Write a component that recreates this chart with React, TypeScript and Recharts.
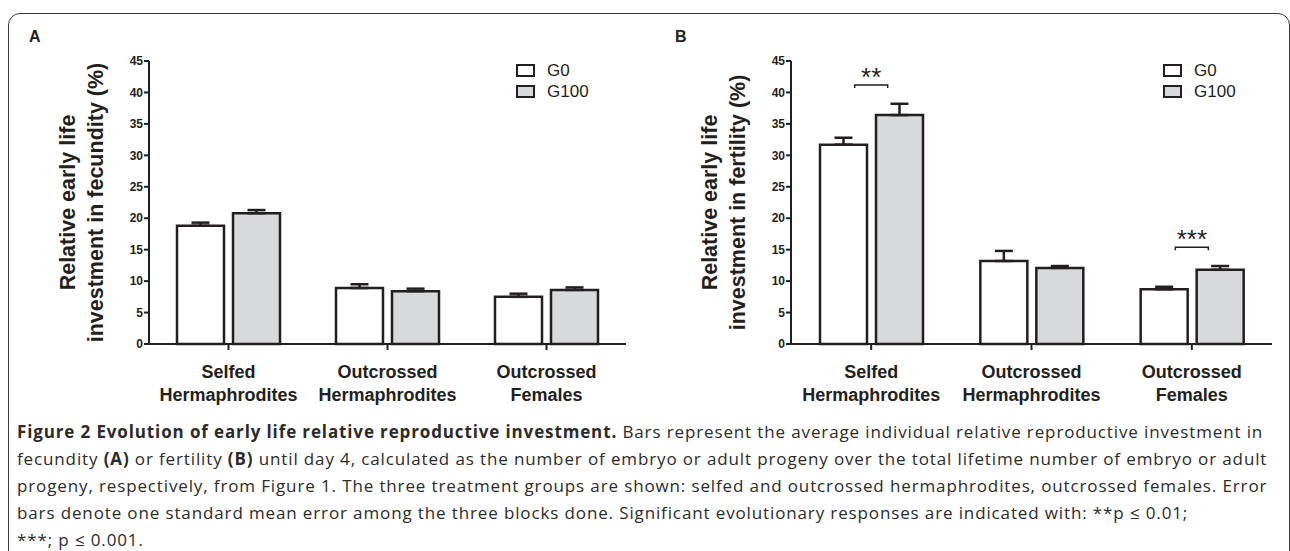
import React from "react";
import { BarChart, Bar, XAxis, YAxis, ErrorBar, Legend, ReferenceDot } from "recharts";

const categories = ["Selfed\nHermaphrodites", "Outcrossed\nHermaphrodites", "Outcrossed\nFemales"];
const seriesNames = ["G0", "G100"];
const yTicks = [0, 5, 10, 15, 20, 25, 30, 35, 40, 45];

// panel A, fecundity
const fecundityG0 = [18.8, 8.9, 7.5];
const fecundityG0Err = [0.5, 0.6, 0.5];
const fecundityG100 = [20.8, 8.4, 8.6];
const fecundityG100Err = [0.5, 0.4, 0.4];

// panel B, fertility
const fertilityG0 = [31.7, 13.2, 8.7];
const fertilityG0Err = [1.1, 1.6, 0.4];
const fertilityG100 = [36.4, 12.1, 11.8];
const fertilityG100Err = [1.8, 0.3, 0.6];

const fertilitySig = [
  { group: categories[0], y: 41.2, label: "**" },
  { group: categories[2], y: 15.4, label: "***" },
];

const INK = "#231f20";
const ARIAL = "'Liberation Sans', Arial, sans-serif";

function rows(g0: number[], g0e: number[], g100: number[], g100e: number[]) {
  return categories.map((c, i) => ({
    group: c,
    g0: g0[i],
    g100: g100[i],
    g0Err: [0, g0e[i]],
    g100Err: [0, g100e[i]],
  }));
}

const CategoryTick = (props: any) => {
  const { x, y, payload } = props;
  const lines = String(payload.value).split("\n");
  return (
    <text x={x} y={y} textAnchor="middle" fontFamily={ARIAL} fontWeight="bold" fontSize={18} fill={INK}>
      {lines.map((l, i) => (
        <tspan key={i} x={x} y={y + 26 + i * 23}>
          {l}
        </tspan>
      ))}
    </text>
  );
};

const YLabel = (props: any) => {
  const { viewBox, lines } = props;
  const axisX = viewBox.x + viewBox.width;
  const cy = viewBox.y + viewBox.height / 2;
  return (
    <g>
      {lines.map((l: string, i: number) => {
        const x = axisX - 81 + i * 28;
        return (
          <text
            key={i}
            x={x}
            y={cy}
            transform={`rotate(-90 ${x} ${cy})`}
            textAnchor="middle"
            dominantBaseline="central"
            fontFamily={ARIAL}
            fontWeight="bold"
            fontSize={21.5}
            fill={INK}
          >
            {l}
          </text>
        );
      })}
    </g>
  );
};

const LegendBox = (props: any) => {
  const { payload } = props;
  return (
    <div style={{ fontFamily: ARIAL, fontSize: 17, color: INK }}>
      {(payload || []).map((entry: any) => (
        <div key={entry.value} style={{ display: "flex", alignItems: "center", height: 21 }}>
          <span
            style={{
              display: "inline-block",
              width: 15,
              height: 9,
              border: `2px solid ${INK}`,
              background: entry.color,
              marginRight: 12,
            }}
          />
          <span>{entry.value}</span>
        </div>
      ))}
    </div>
  );
};

const SigMark = (props: any) => {
  const { cx, cy, label } = props;
  const half = 16.5;
  return (
    <g>
      <path
        d={`M${cx - half},${cy + 3} L${cx - half},${cy} L${cx + half},${cy} L${cx + half},${cy + 3}`}
        fill="none"
        stroke={INK}
        strokeWidth={1.5}
      />
      <text x={cx} y={cy + 1} textAnchor="middle" fontFamily={ARIAL} fontSize={26} fill={INK}>
        {label}
      </text>
    </g>
  );
};

function Panel(props: {
  data: any[];
  yLines: string[];
  width: number;
  left: number;
  right: number;
  legendLeft: number;
  sig?: { group: string; y: number; label: string }[];
}) {
  const { data, yLines, width, left, right, legendLeft, sig } = props;
  return (
    <BarChart
      width={width}
      height={420}
      data={data}
      barGap={9}
      margin={{ top: 61, right: right, bottom: 16, left: left - 40 }}
    >
      <XAxis
        dataKey="group"
        height={60}
        axisLine={{ stroke: INK, strokeWidth: 2 }}
        tickLine={{ stroke: INK, strokeWidth: 2 }}
        tickSize={6}
        tick={<CategoryTick />}
        interval={0}
      />
      <YAxis
        width={40}
        domain={[0, 45]}
        ticks={yTicks}
        interval={0}
        axisLine={{ stroke: INK, strokeWidth: 2 }}
        tickLine={{ stroke: INK, strokeWidth: 2 }}
        tickSize={5}
        tickMargin={1}
        tick={{ fill: INK, fontSize: 12, fontWeight: "bold", fontFamily: ARIAL }}
        label={{ content: (p: any) => <YLabel {...p} lines={yLines} /> }}
      />
      <Legend
        layout="vertical"
        align="center"
        verticalAlign="middle"
        content={<LegendBox />}
        wrapperStyle={{ left: legendLeft, top: 60, width: 110 }}
      />
      <Bar dataKey="g0" name={seriesNames[0]} fill="#ffffff" stroke={INK} strokeWidth={2.5} barSize={47} isAnimationActive={false}>
        <ErrorBar dataKey="g0Err" direction="y" width={9} stroke={INK} strokeWidth={2.5} isAnimationActive={false} />
      </Bar>
      <Bar dataKey="g100" name={seriesNames[1]} fill="#d8d9db" stroke={INK} strokeWidth={2.5} barSize={47} isAnimationActive={false}>
        <ErrorBar dataKey="g100Err" direction="y" width={9} stroke={INK} strokeWidth={2.5} isAnimationActive={false} />
      </Bar>
      {(sig || []).map((s) => (
        <ReferenceDot
          key={s.group}
          x={s.group}
          y={s.y}
          ifOverflow="visible"
          shape={(p: any) => <SigMark {...p} label={s.label} />}
        />
      ))}
    </BarChart>
  );
}

const captionLines: React.ReactNode[] = [
  <>
    <b>Figure 2 Evolution of early life relative reproductive investment.</b> Bars represent the average individual
    relative reproductive investment in
  </>,
  <>
    fecundity <b>(A)</b> or fertility <b>(B)</b> until day 4, calculated as the number of embryo or adult progeny over
    the total lifetime number of embryo or adult
  </>,
  <>
    progeny, respectively, from Figure 1. The three treatment groups are shown: selfed and outcrossed hermaphrodites,
    outcrossed females. Error
  </>,
  <>
    bars denote one standard mean error among the three blocks done. Significant evolutionary responses are indicated
    with: **p ≤ 0.01;
  </>,
  <>***; p ≤ 0.001.</>,
];

export default function App() {
  const dataA = rows(fecundityG0, fecundityG0Err, fecundityG100, fecundityG100Err);
  const dataB = rows(fertilityG0, fertilityG0Err, fertilityG100, fertilityG100Err);
  return (
    <div style={{ position: "absolute", left: 0, top: 0, width: 1290, height: 551, overflow: "hidden", background: "#fff" }}>
      <div
        style={{
          position: "absolute",
          left: 8,
          top: 13,
          width: 1282,
          height: 700,
          boxSizing: "border-box",
          border: "1.5px solid #3a3a3a",
          borderRadius: 12,
        }}
      />
      <div style={{ position: "absolute", left: 29, top: 28, fontFamily: ARIAL, fontWeight: "bold", fontSize: 16, color: INK }}>A</div>
      <div style={{ position: "absolute", left: 675, top: 28, fontFamily: ARIAL, fontWeight: "bold", fontSize: 16, color: INK }}>B</div>
      <div style={{ position: "absolute", left: 0, top: 0 }}>
        <Panel
          data={dataA}
          yLines={["Relative early life", "investment in fecundity (%)"]}
          width={640}
          left={149}
          right={14}
          legendLeft={516}
        />
      </div>
      <div style={{ position: "absolute", left: 640, top: 0 }}>
        <Panel
          data={dataB}
          yLines={["Relative early life", "investment in fertility (%)"]}
          width={650}
          left={151}
          right={18}
          legendLeft={523}
          sig={fertilitySig}
        />
      </div>
      <div
        style={{
          position: "absolute",
          left: 17,
          top: 418,
          fontFamily: "'Open Sans', 'Noto Sans', sans-serif",
          fontSize: 17,
          letterSpacing: "0.87px",
          lineHeight: "27px",
          color: "#2b2b2b",
          whiteSpace: "nowrap",
        }}
      >
        {captionLines.map((l, i) => (
          <div key={i}>{l}</div>
        ))}
      </div>
    </div>
  );
}
